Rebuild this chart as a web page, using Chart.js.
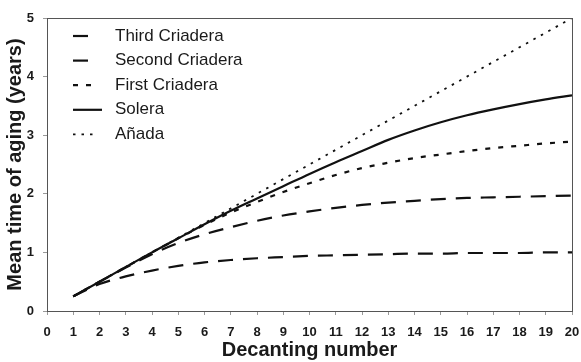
<!DOCTYPE html>
<html>
<head>
<meta charset="utf-8">
<script src="https://cdn.jsdelivr.net/npm/chart.js@4"></script>
<style>
  html, body { margin: 0; padding: 0; background: #fff; }
  #wrap { width: 581px; height: 362px; }
</style>
</head>
<body>
<div id="wrap"><canvas id="agingChart" width="581" height="362"></canvas></div>
<script>
// values
const decantings = [1, 2, 3, 4, 5, 6, 7, 8, 9, 10, 11, 12, 13, 14, 15, 16, 17, 18, 19, 20];
const thirdCriadera  = [0.25, 0.46, 0.59, 0.69, 0.77, 0.83, 0.87, 0.90, 0.92, 0.94, 0.95, 0.96, 0.97, 0.98, 0.98, 0.99, 0.99, 0.99, 1.00, 1.00];
const secondCriadera = [0.25, 0.50, 0.74, 0.97, 1.16, 1.31, 1.43, 1.54, 1.63, 1.70, 1.76, 1.81, 1.85, 1.88, 1.91, 1.93, 1.94, 1.95, 1.96, 1.97];
const firstCriadera  = [0.25, 0.50, 0.75, 1.00, 1.24, 1.47, 1.68, 1.86, 2.03, 2.18, 2.32, 2.44, 2.53, 2.61, 2.67, 2.73, 2.78, 2.82, 2.86, 2.89];
const solera         = [0.25, 0.50, 0.75, 1.00, 1.24, 1.48, 1.71, 1.92, 2.13, 2.34, 2.54, 2.73, 2.92, 3.08, 3.22, 3.34, 3.44, 3.53, 3.61, 3.68];
const anada          = [0.25, 0.50, 0.75, 1.00, 1.25, 1.50, 1.75, 2.00, 2.25, 2.50, 2.75, 3.00, 3.25, 3.50, 3.75, 4.00, 4.25, 4.50, 4.75, 5.00];
const xTicks = [0, 20, 1];   // min, max, step
const yTicks = [0, 5, 1];

const FONT = '"Liberation Sans", Arial, sans-serif';
const INK = '#1a1a1a';

const toPoints = vals => vals.map((v, i) => ({ x: decantings[i], y: v }));

const series = [
  { label: 'Third Criadera',  data: thirdCriadera,  dash: [15, 10], width: 2.2 },
  { label: 'Second Criadera', data: secondCriadera, dash: [15, 10], width: 2.2 },
  { label: 'First Criadera',  data: firstCriadera,  dash: [5, 8],   width: 2.2 },
  { label: 'Solera',          data: solera,         dash: [],       width: 2.2 },
  { label: 'Añada',           data: anada,          dash: [2.5, 6], width: 1.8 }
];

// frame + legend drawn inside the plot box
const frameAndLegend = {
  id: 'frameAndLegend',
  afterDatasetsDraw(chart) {
    const { ctx, chartArea: a } = chart;
    ctx.save();
    ctx.strokeStyle = '#555';
    ctx.lineWidth = 1;
    ctx.setLineDash([]);
    ctx.strokeRect(a.left + 0.5, a.top + 0.5, a.right - a.left, a.bottom - a.top);

    chart.data.datasets.forEach((ds, i) => {
      const y = 36 + i * 24.6;
      ctx.strokeStyle = ds.borderColor;
      ctx.lineWidth = ds.borderWidth;
      ctx.setLineDash(ds.borderDash);
      ctx.beginPath();
      ctx.moveTo(73, y);
      ctx.lineTo(ds.borderDash.length ? 97 : 102, y);
      ctx.stroke();
      ctx.setLineDash([]);
      ctx.fillStyle = INK;
      ctx.font = '17px ' + FONT;
      ctx.textBaseline = 'middle';
      ctx.textAlign = 'left';
      ctx.fillText(ds.label, 115, y);
    });
    ctx.restore();
  }
};

const chart = new Chart(document.getElementById('agingChart').getContext('2d'), {
  type: 'line',
  data: {
    datasets: series.map(s => ({
      label: s.label,
      data: toPoints(s.data),
      borderColor: '#111',
      borderWidth: s.width,
      borderDash: s.dash,
      pointRadius: 0,
      fill: false,
      cubicInterpolationMode: 'monotone'
    }))
  },
  options: {
    responsive: false,
    animation: false,
    layout: { padding: { top: 18, right: 9, left: 0, bottom: 0 } },
    plugins: { legend: { display: false }, tooltip: { enabled: false } },
    scales: {
      x: {
        type: 'linear',
        min: xTicks[0],
        max: xTicks[1],
        afterFit: s => { s.height = 51; s.paddingLeft = 0; s.paddingRight = 0; },
        ticks: { stepSize: xTicks[2], color: INK, padding: 10, maxRotation: 0, autoSkip: false,
                 font: { family: FONT, size: 13, weight: 'bold' } },
        grid: { drawOnChartArea: false, drawTicks: true, tickLength: 4, color: '#999' },
        border: { display: false },
        title: { display: true, text: 'Decanting number', color: INK, padding: 0,
                 font: { family: FONT, size: 20, weight: 'bold' } }
      },
      y: {
        type: 'linear',
        min: yTicks[0],
        max: yTicks[1],
        afterFit: s => { s.width = 47; s.paddingTop = 0; s.paddingBottom = 0; },
        ticks: { stepSize: yTicks[2], color: INK, padding: 9,
                 font: { family: FONT, size: 13, weight: 'bold' } },
        grid: { drawOnChartArea: false, drawTicks: true, tickLength: 4, color: '#999' },
        border: { display: false },
        title: { display: true, text: 'Mean time of aging (years)', color: INK, padding: { top: 3 },
                 font: { family: FONT, size: 20, weight: 'bold' } }
      }
    }
  },
  plugins: [frameAndLegend]
});
</script>
</body>
</html>
